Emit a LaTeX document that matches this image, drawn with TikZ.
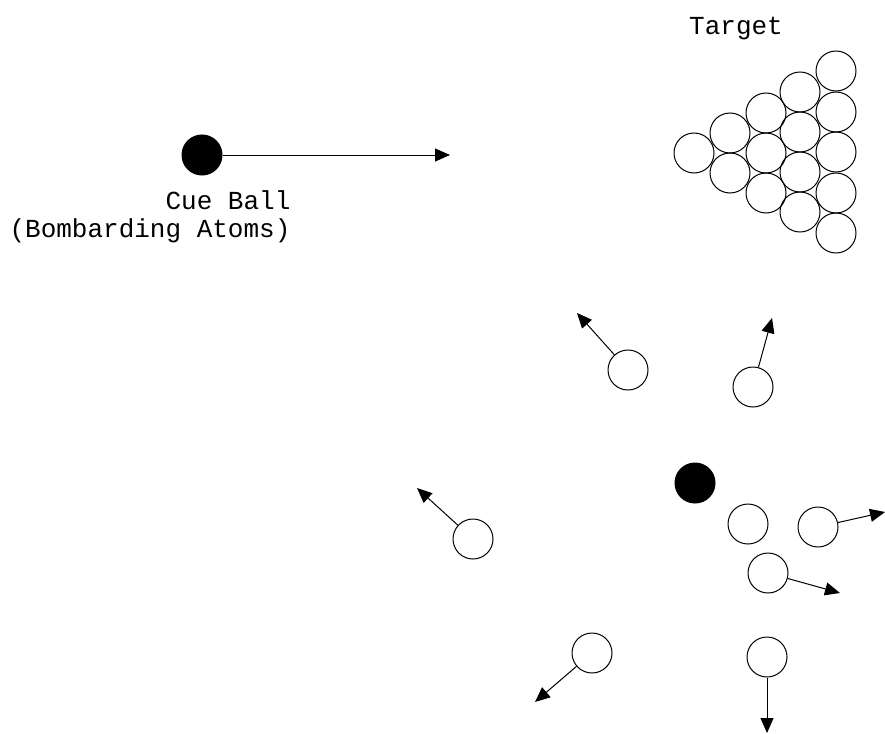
\documentclass[tikz,border=0pt]{standalone}
\usepackage{fontspec}
\setmonofont{Liberation Mono}
\usetikzlibrary{arrows.meta}
\begin{document}
\begin{tikzpicture}[x=1pt,y=-1pt,
  ball/.style={circle,draw,line width=1pt,minimum size=40pt,inner sep=0pt},
  cue/.style={ball,fill=black},
  shot/.style={line width=1pt,-{Triangle[length=15pt,width=13pt]}},
  lbl/.style={font=\ttfamily\fontsize{26}{30}\selectfont,inner sep=0pt,anchor=base}]
\useasboundingbox (0,0) rectangle (885,733);
% labels
\node[lbl] (tlabel) at (736,35) {Target};
\node[lbl,text depth=0pt] (cuelabel) at (228,209) {Cue Ball};
\node[lbl,text height=16pt] (bomblabel) at (150,237) {(Bombarding Atoms)};
% cue ball
\node[cue] (cueball) at (202,155) {};
\coordinate (cuetip) at (450,155);
\draw[shot] (cueball) -- (cuetip);
% target rack
\foreach \n/\x/\y in {t1/694/153,
  t2/730/133, t3/730/173,
  t4/766/113, t5/766/153, t6/766/193,
  t7/800/92, t8/800/132, t9/800/172, t10/800/212,
  t11/836/71, t12/836/112, t13/836/152, t14/836/193, t15/836/233}
  \node[ball] (\n) at (\x,\y) {};
% scattered balls
\node[ball] (ba) at (628,370) {};
\coordinate (ta) at (577,313);
\draw[shot] (ba) -- (ta);
\node[ball] (bb) at (753,387) {};
\coordinate (tb) at (772,318);
\draw[shot] (bb) -- (tb);
\node[cue] (cue2) at (695,483) {};
\node[ball] (bc) at (473,539) {};
\coordinate (tc) at (417,488);
\draw[shot] (bc) -- (tc);
\node[ball] (bd) at (748,524) {};
\node[ball] (be) at (818,527) {};
\coordinate (te) at (885,512);
\draw[shot] (be) -- (te);
\node[ball] (bf) at (768,573) {};
\coordinate (tf) at (840,593);
\draw[shot] (bf) -- (tf);
\node[ball] (bg) at (592,653) {};
\coordinate (tg) at (535,702);
\draw[shot] (bg) -- (tg);
\node[ball] (bh) at (767,657) {};
\coordinate (th) at (767,733);
\draw[shot] (bh) -- (th);
\end{tikzpicture}
\end{document}
